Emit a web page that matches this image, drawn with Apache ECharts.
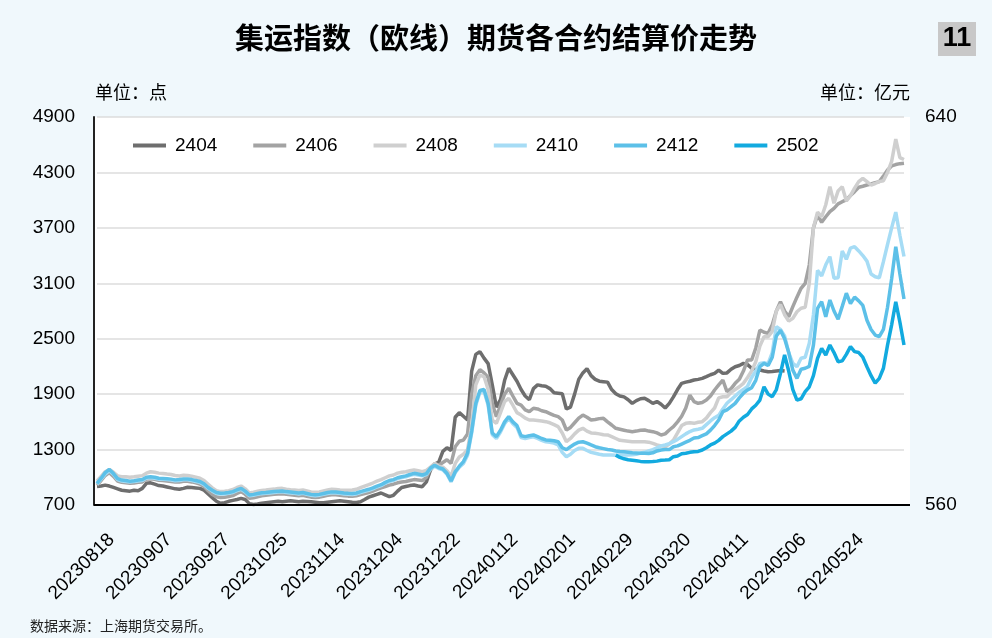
<!DOCTYPE html>
<html><head><meta charset="utf-8">
<script src="https://cdn.jsdelivr.net/npm/echarts@6/dist/echarts.min.js"></script>
<style>html,body{margin:0;padding:0;background:#f0f8fc}#c{width:992px;height:638px}</style>
</head><body><div id="c"></div>
<script>
const dates = [
'20230818','20230821','20230822','20230823','20230824','20230825','20230828','20230829','20230830','20230831',
'20230901','20230904','20230905','20230906','20230907','20230908','20230911','20230912','20230913','20230914','20230915','20230918','20230919','20230920','20230921','20230922','20230925','20230926','20230927','20230928',
'20231009','20231010','20231011','20231012','20231013','20231016','20231017','20231018','20231019','20231020','20231023','20231024','20231025','20231026','20231027','20231030','20231031',
'20231101','20231102','20231103','20231106','20231107','20231108','20231109','20231110','20231113','20231114','20231115','20231116','20231117','20231120','20231121','20231122','20231123','20231124','20231127','20231128','20231129','20231130',
'20231201','20231204','20231205','20231206','20231207','20231208','20231211','20231212','20231213','20231214','20231215','20231218','20231219','20231220','20231221','20231222','20231225','20231226','20231227','20231228','20231229',
'20240102','20240103','20240104','20240105','20240108','20240109','20240110','20240111','20240112','20240115','20240116','20240117','20240118','20240119','20240122','20240123','20240124','20240125','20240126','20240129','20240130','20240131',
'20240201','20240202','20240205','20240206','20240207','20240208','20240219','20240220','20240221','20240222','20240223','20240226','20240227','20240228','20240229',
'20240301','20240304','20240305','20240306','20240307','20240308','20240311','20240312','20240313','20240314','20240315','20240318','20240319','20240320','20240321','20240322','20240325','20240326','20240327','20240328','20240329',
'20240401','20240402','20240403','20240408','20240409','20240410','20240411','20240412','20240415','20240416','20240417','20240418','20240419','20240422','20240423','20240424','20240425','20240426','20240429','20240430',
'20240506','20240507','20240508','20240509','20240510','20240513','20240514','20240515','20240516','20240517','20240520','20240521','20240522','20240523','20240524','20240527','20240528','20240529','20240530','20240531',
'20240603','20240604','20240605','20240606','20240607','20240611','20240612','20240613','20240614'
];
const labelDates = ['20230818','20230907','20230927','20231025','20231114','20231204','20231222','20240112','20240201','20240229','20240320','20240411','20240506','20240524'];
const s2404 = [
900,905,915,905,890,875,860,855,850,860,
855,880,935,940,925,910,905,895,885,875,
870,880,892,890,885,880,860,820,780,740,
718,725,740,750,760,772,760,715,705,710,
720,725,730,735,740,735,740,745,740,735,
740,738,735,730,725,725,730,735,740,745,
740,735,730,728,736,760,785,800,815,830,
810,790,805,850,890,900,910,916,905,898,
950,1080,1140,1165,1280,1320,1290,1650,1700,1660,
1620,2150,2330,2360,2290,2230,2000,1760,1840,2050,
2180,2110,2040,1950,1880,1840,1960,2000,1990,1985,
1960,1915,1910,1905,1740,1760,1900,2060,2130,2175,
2100,2060,2040,2035,2030,1950,1905,1880,1870,1840,
1800,1830,1850,1855,1830,1800,1820,1790,1750,1800,
1870,1950,2017,2030,2040,2053,2060,2071,2090,2110,
2125,2161,2125,2130,2170,2197,2210,2233,2220,2180,
2165,2161,2150,2143,2145,2150,2155,2150
];
const s2406 = [
915,965,1020,1050,1010,960,945,940,935,938,
945,950,980,985,978,968,965,960,955,948,
950,958,958,950,940,928,900,855,815,790,
780,785,792,802,825,845,815,772,778,790,
800,805,810,815,820,822,815,810,805,800,
805,795,785,780,785,795,805,812,810,805,
800,796,794,800,812,825,835,850,868,885,
900,915,925,940,948,955,965,975,970,965,
1000,1090,1150,1130,1160,1190,1150,1330,1390,1403,
1470,1900,2100,2165,2130,2080,1800,1656,1780,1900,
1963,1880,1800,1782,1730,1710,1747,1740,1720,1710,
1690,1670,1656,1620,1512,1540,1590,1640,1674,1650,
1620,1625,1635,1638,1600,1566,1530,1520,1510,1500,
1494,1500,1510,1512,1500,1494,1480,1458,1470,1512,
1548,1600,1660,1750,1890,1820,1801,1810,1836,1880,
1945,2000,2053,1927,1960,2017,2060,2150,2270,2270,
2400,2594,2570,2558,2650,2800,2900,2800,2738,2847,
2950,3045,3100,3300,3700,3840,3760,3820,3875,3911,
3960,3983,4002,4050,4092,4140,4150,4164,4175,4190,
4200,4260,4326,4370,4385,4395,4400
];
const s2408 = [
960,1010,1060,1085,1055,1015,1005,1005,1000,1005,
1012,1018,1045,1060,1055,1045,1042,1035,1030,1020,
1015,1022,1020,1012,1002,990,965,925,885,855,
845,848,855,868,890,905,875,830,838,848,
858,862,868,872,878,880,872,866,862,858,
862,852,842,838,842,852,862,870,868,862,
860,860,862,870,888,905,920,938,958,975,
995,1015,1025,1045,1055,1060,1070,1080,1070,1060,
1075,1110,1150,1120,1110,1070,1010,1150,1220,1250,
1300,1560,2000,2107,2090,1950,1620,1584,1700,1820,
1855,1780,1700,1674,1640,1620,1620,1615,1610,1602,
1590,1570,1548,1480,1385,1420,1470,1510,1530,1500,
1480,1476,1470,1460,1458,1440,1420,1400,1395,1390,
1385,1385,1385,1385,1380,1367,1350,1340,1331,1360,
1403,1480,1560,1584,1590,1584,1595,1602,1640,1700,
1750,1860,1872,1872,1920,1950,1980,2017,2080,2150,
2250,2420,2522,2522,2580,2800,2870,2760,2690,2720,
2792,2830,2840,3100,3700,3870,3820,3950,4146,3966,
4100,4146,3990,4050,4130,4200,4236,4200,4164,4180,
4200,4210,4300,4420,4660,4460,4440
];
const s2410 = [
925,980,1035,1070,1030,975,960,955,950,955,
960,965,990,995,990,980,978,975,970,962,
965,972,972,965,955,945,920,880,850,825,
818,820,826,836,855,870,840,800,806,815,
823,826,830,836,840,842,836,830,826,820,
826,816,806,800,806,815,825,832,830,826,
820,816,814,820,835,848,860,875,895,910,
935,955,965,985,996,1005,1020,1033,1025,1015,
1030,1090,1120,1095,1080,1033,950,1050,1110,1150,
1240,1480,1780,1920,1930,1780,1460,1420,1490,1580,
1636,1580,1540,1430,1420,1430,1438,1420,1400,1385,
1380,1370,1350,1270,1223,1250,1290,1313,1313,1290,
1270,1260,1250,1241,1240,1240,1238,1240,1241,1242,
1245,1250,1262,1270,1285,1300,1320,1340,1350,1365,
1385,1410,1440,1470,1495,1512,1520,1530,1570,1610,
1645,1670,1740,1801,1840,1880,1920,1950,1985,2080,
2150,2233,2240,2230,2350,2630,2600,2530,2350,2233,
2197,2288,2300,2450,2757,3240,3180,3300,3388,3154,
3160,3450,3360,3480,3496,3450,3400,3340,3200,3171,
3160,3334,3520,3700,3870,3620,3390
];
const s2412 = [
935,990,1050,1085,1040,985,970,965,958,962,
970,975,1000,1005,1000,990,988,985,980,972,
975,982,982,975,965,955,930,890,860,835,
827,830,835,845,865,880,850,808,815,825,
833,835,840,845,850,852,845,840,835,830,
835,825,815,810,815,825,835,842,840,835,
830,826,824,830,845,858,870,885,905,920,
945,965,975,995,1006,1015,1030,1043,1035,1025,
1040,1100,1130,1105,1090,1043,960,1060,1120,1170,
1260,1500,1800,1940,1950,1800,1480,1440,1510,1600,
1656,1600,1560,1450,1440,1450,1458,1440,1420,1404,
1400,1395,1385,1320,1300,1331,1360,1380,1385,1370,
1350,1331,1320,1310,1300,1295,1285,1280,1277,1272,
1265,1262,1259,1259,1258,1265,1285,1295,1300,1300,
1331,1340,1360,1380,1400,1425,1430,1450,1470,1510,
1560,1620,1710,1730,1764,1800,1860,1910,1945,1970,
2050,2197,2233,2210,2300,2530,2590,2500,2350,2160,
2071,2170,2180,2200,2430,2829,2900,2738,2919,2800,
2710,2850,2992,2880,2950,2910,2860,2700,2600,2540,
2522,2600,2840,3150,3496,3200,2930
];
const s2502 = [].concat(new Array(126).fill(null), [
1240,1215,1200,1190,
1185,1180,1172,1169,1168,1170,1175,1185,1187,1190,
1223,1230,1255,1260,1270,1277,1280,1295,1320,1350,
1370,1400,1440,1470,1500,1540,1610,1650,1680,1740,
1780,1836,1980,1900,1872,1950,2125,2324,2150,1950,
1836,1850,1927,1980,2100,2288,2396,2324,2432,2350,
2250,2260,2330,2414,2360,2350,2300,2197,2100,2020,
2071,2180,2430,2650,2900,2680,2432
]);
const seriesNames = ['2404','2406','2408','2410','2412','2502'];
const seriesData = [s2404, s2406, s2408, s2410, s2412, s2502];
const seriesColors = ['#6e6e6e','#a3a3a3','#cfcfcf','#a6dcf5','#5cc0e8','#12aadf'];
const leftTicks = {min:700, max:4900, interval:600};
const rightTicks = {min:560, max:640, interval:80};
const titleText = '集运指数（欧线）期货各合约结算价走势';
const leftUnit = '单位：点';
const rightUnit = '单位：亿元';
const sourceText = '数据来源：上海期货交易所。';
const badgeText = '11';

const F = '"Liberation Sans", Arial, sans-serif';
const labelSet = new Set(labelDates);
const chart = echarts.init(document.getElementById('c'), null, {renderer:'canvas'});
chart.setOption({
  backgroundColor:'#f0f8fc',
  animation:false,
  graphic:[
    {type:'rect', z:-10, silent:true, shape:{x:94,y:117,width:816,height:388}, style:{fill:'#ffffff'}},
    {type:'line', z:5, silent:true, shape:{x1:94,y1:505,x2:910,y2:505}, style:{stroke:'#000', lineWidth:2}},
    {type:'text', x:496, y:38, style:{text:titleText, textAlign:'center', textVerticalAlign:'middle', font:'bold 29px "Noto Sans CJK SC"', fill:'#000'}},
    {type:'rect', shape:{x:938,y:22,width:38,height:34}, style:{fill:'#c8c8c8'}},
    {type:'text', x:957, y:39, style:{text:badgeText, textAlign:'center', textVerticalAlign:'middle', font:'bold 27px "Liberation Sans"', fill:'#000'}},
    {type:'text', x:95, y:92, style:{text:leftUnit, textAlign:'left', textVerticalAlign:'middle', font:'18px "Noto Sans CJK SC"', fill:'#000'}},
    {type:'text', x:910, y:92, style:{text:rightUnit, textAlign:'right', textVerticalAlign:'middle', font:'18px "Noto Sans CJK SC"', fill:'#000'}},
    {type:'text', x:30, y:626, style:{text:sourceText, textAlign:'left', textVerticalAlign:'middle', font:'14px "Noto Sans CJK SC"', fill:'#222'}}
  ],
  legend:{
    data:seriesNames, left:133, top:136, padding:0, icon:'rect', itemWidth:33, itemHeight:4, itemGap:36,
    textStyle:{fontFamily:F, fontSize:19, color:'#000', padding:[0,0,0,4]}
  },
  grid:{left:97, right:88, top:117, bottom:133, containLabel:false},
  xAxis:{
    type:'category', data:dates, boundaryGap:false,
    axisLine:{show:true, lineStyle:{color:'#000', width:2}},
    axisTick:{show:false},
    axisLabel:{interval:(i, v)=>labelSet.has(v), rotate:45, fontFamily:F, fontSize:19, color:'#000', margin:6, verticalAlign:'top', padding:[19,8,0,0]},
    splitLine:{show:false}
  },
  yAxis:[
    {type:'value', min:leftTicks.min, max:leftTicks.max, interval:leftTicks.interval, offset:3,
     axisLine:{show:true, lineStyle:{color:'#222', width:2}}, axisTick:{show:false},
     axisLabel:{fontFamily:F, fontSize:19, color:'#000', margin:19, formatter:(v)=>String(v)},
     splitLine:{show:true, lineStyle:{color:'#dcdcdc', width:1.5}}},
    {type:'value', position:'right', min:rightTicks.min, max:rightTicks.max, interval:rightTicks.interval,
     axisLine:{show:false}, axisTick:{show:false},
     axisLabel:{fontFamily:F, fontSize:19, color:'#000', margin:21, formatter:(v)=>String(v)},
     splitLine:{show:false}}
  ],
  series: seriesNames.map((n,i)=>({
    name:n, type:'line', data:seriesData[i], symbol:'none', connectNulls:false,
    lineStyle:{color:seriesColors[i], width:3.5}, itemStyle:{color:seriesColors[i]}
  }))
});
</script></body></html>
